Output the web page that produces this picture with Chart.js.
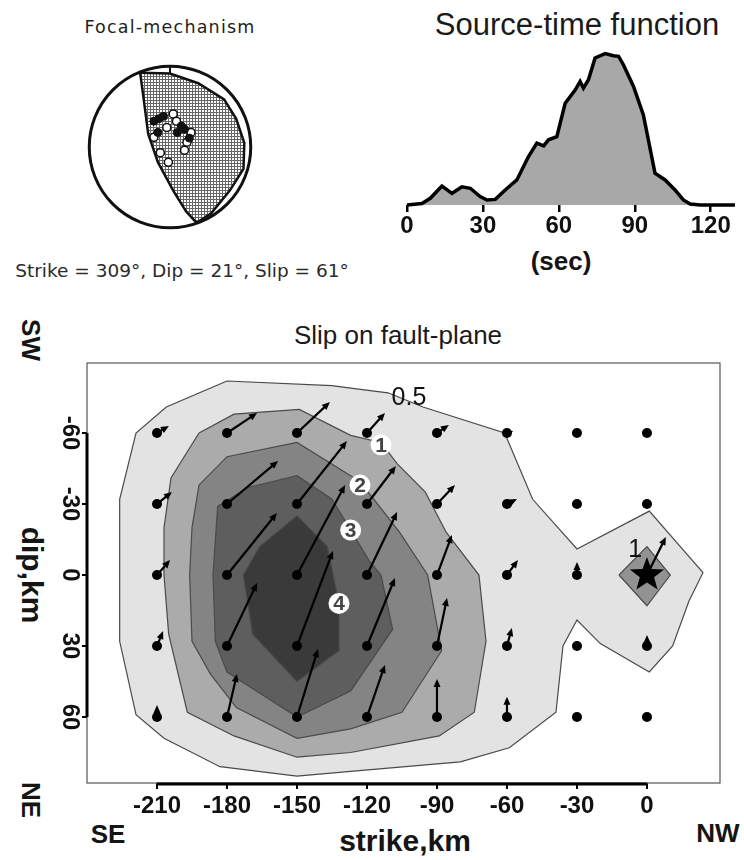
<!DOCTYPE html>
<html>
<head>
<meta charset="utf-8">
<script src="https://cdn.jsdelivr.net/npm/chart.js@4.4.1/dist/chart.umd.min.js"></script>
<style>
  html, body { margin: 0; padding: 0; background: #fff; }
  #page { position: relative; width: 744px; height: 860px; overflow: hidden; font-family: "Liberation Sans", Arial, sans-serif; color: #151515; }
  canvas { position: absolute; }
  .lbl { position: absolute; white-space: nowrap; line-height: 1; transform: translate(-50%, -50%); }
  .rot { transform: translate(-50%, -50%) rotate(90deg); }
  .b { font-weight: bold; }
</style>
</head>
<body>
<div id="page">
  <div class="lbl" style="left:170px;top:28px;font-family:'DejaVu Sans';font-size:17.5px;letter-spacing:1.2px;color:#1e1e1e">Focal-mechanism</div>
  <div class="lbl" style="left:182px;top:271px;font-family:'DejaVu Sans';font-size:18.5px;color:#2b2b2b">Strike = 309°, Dip = 21°, Slip = 61°</div>
  <div class="lbl" style="left:577px;top:24px;font-size:31px;color:#1a1a1a">Source-time function</div>
  <div class="lbl b" style="left:561px;top:261px;font-size:26px">(sec)</div>
  <div class="lbl" style="left:398px;top:335px;font-size:26px;color:#1a1a1a">Slip on fault-plane</div>
  <div class="lbl b rot" style="left:31px;top:340px;font-size:26px">SW</div>
  <div class="lbl b rot" style="left:32px;top:575px;font-size:30px">dip,km</div>
  <div class="lbl b rot" style="left:31px;top:800px;font-size:26px">NE</div>
  <div class="lbl b" style="left:108px;top:834px;font-size:26px">SE</div>
  <div class="lbl b" style="left:405px;top:841px;font-size:30px">strike,km</div>
  <div class="lbl b" style="left:718px;top:833px;font-size:26px">NW</div>

  <canvas id="ball" width="220" height="220" style="left:60px;top:37px"></canvas>
  <canvas id="stf" width="364" height="202" style="left:380px;top:40px"></canvas>
  <canvas id="slip" width="744" height="560" style="left:0;top:300px"></canvas>
</div>

<script>
// ---- Focal mechanism (unit lower-hemisphere coords) ----
const nodalPlane = [[-0.37, 0.92], [-0.32, 0.55], [-0.27, 0.16], [-0.15, -0.19], [0.04, -0.54], [0.2, -0.8], [0.33, -0.94]];
const auxPlane = [[-0.37, 0.92], [0, 0.91], [0.35, 0.79], [0.67, 0.59], [0.82, 0.35], [0.92, 0.05], [0.91, -0.27], [0.74, -0.54], [0.51, -0.82], [0.33, -0.94]];
const northTick = [[0, 0.91], [0, 1]];
const upPolarity = [[-0.2, 0.32], [-0.14, 0.35], [-0.08, 0.38], [0.14, 0.26], [0.18, 0.22], [0.24, 0.11], [-0.15, 0.18], [0.09, 0.18]];
const downPolarity = [[0.04, 0.41], [0.08, 0.32], [0.26, 0.18], [0.21, 0.06], [0.18, -0.04], [-0.2, 0.12], [-0.12, -0.07], [-0.02, -0.19], [-0.04, 0.24]];

// ---- Source-time function ----
const stfTime = [0, 5.9, 9.2, 13.8, 17.8, 21.7, 25, 28.9, 31.6, 34.9, 38.8, 43.4, 48, 51.3, 54, 55.9, 59.2, 62.5, 66.5, 68.4, 69.7, 71.7, 74.3, 78.3, 81.6, 83.6, 85.5, 89.5, 93.4, 98, 102, 105.9, 109.2, 111.9, 115.8, 129.6];
const stfRate = [0, 0.01, 0.044, 0.125, 0.077, 0.12, 0.11, 0.055, 0.033, 0.037, 0.099, 0.165, 0.319, 0.407, 0.389, 0.429, 0.45, 0.67, 0.758, 0.813, 0.769, 0.824, 0.967, 0.996, 0.982, 0.978, 0.923, 0.78, 0.593, 0.209, 0.165, 0.099, 0.033, 0.007, 0, 0];
const stfTicks = [0, 30, 60, 90, 120];

// ---- Slip on fault plane ----
const strikeKm = [-210, -180, -150, -120, -90, -60, -30, 0];
const dipKm = [-60, -30, 0, 30, 60];
// slip vector components in plot km, one row per dip, one column per strike
const slipU = [
  [5.1, 12.9, 14.1, 7.7, 5.1, 2.6, 0, 0],
  [6.4, 21.9, 21.4, 12.4, 7.7, 4.3, 0, 0],
  [5.6, 21.4, 20.6, 12.9, 6.4, 4.7, 0, 8.1],
  [2.6, 12.9, 15.4, 12.0, 4.3, 2.1, 0, 0],
  [0, 4.3, 9.0, 7.7, 0, 0, 0, 0]
];
const slipV = [
  [-3.0, -8.5, -13.1, -8.5, -3.4, -0.8, 0, 0],
  [-5.1, -18.2, -26.6, -16.1, -8.0, -2.1, 0, 0],
  [-6.3, -26.2, -38.0, -26.6, -16.9, -6.3, -5.5, -16.1],
  [-6.3, -26.6, -40.1, -28.7, -20.3, -7.6, 0, -4.6],
  [-5.1, -18.2, -28.7, -22.0, -16.1, -8.5, 0, 0]
];
const contour05 = [[-180, -82], [-135, -80], [-127, -79], [-111, -77], [-96, -71], [-61, -60], [-49, -32], [-30, -11], [1, -27], [24, -1], [18, 11], [11, 30], [1, 41], [-20, 29], [-30, 19], [-36, 30], [-39, 58], [-59, 73], [-80, 79], [-127, 83], [-150, 85], [-183, 81], [-207, 69], [-219, 59], [-226, 28], [-226, -32], [-219, -60], [-206, -71]];
const contour1 = [[-192, -60], [-177, -68], [-149, -70], [-127, -59], [-114, -56], [-107, -47], [-95, -35], [-86, -18], [-72, 0], [-69, 28], [-74, 58], [-89, 68], [-127, 75], [-150, 77], [-177, 68], [-197, 58], [-205, 25], [-207, 0], [-207, -20], [-204, -41]];
const contour2 = [[-192, -38], [-180, -50], [-150, -56], [-127, -42], [-123, -39], [-117, -32], [-106, -18], [-94, 0], [-88, 32], [-105, 58], [-127, 65], [-150, 69], [-176, 56], [-187, 42], [-195, 28], [-196, 0], [-195, -20]];
const contour3 = [[-171, -37], [-150, -42], [-135, -32], [-127, -19], [-119, -6], [-114, 0], [-109, 23], [-127, 49], [-150, 60], [-180, 41], [-185, 28], [-186, 0], [-184, -29]];
const contour4 = [[-166, -12], [-150, -25], [-137, -12], [-132, 12], [-132, 32], [-150, 45], [-169, 25], [-173, 0]];
const contourEpi = [[-12, 0], [0, -12], [10, 0], [0, 13]];
const epicenter = [0, 0];
const contourLabelText = ['0.5', '1', '2', '3', '4', '1'];
const contourLabelX = [-102, -114, -123, -127, -132, -5];
const contourLabelY = [-75, -55, -38, -19, 12, -11];
const strikeTicks = [-210, -180, -150, -120, -90, -60, -30, 0];
const dipTicks = [-60, -30, 0, 30, 60];

const closed = pts => pts.concat([pts[0]]).map(([x, y]) => ({ x, y }));
const toXY = pts => pts.map(([x, y]) => ({ x, y }));

// --- focal mechanism ball ---
function hatchPattern(ctx) {
    const c = document.createElement('canvas');
    c.width = 3; c.height = 3;
    const g = c.getContext('2d');
    g.fillStyle = '#fff'; g.fillRect(0, 0, 3, 3);
    g.fillStyle = '#666'; g.fillRect(0, 0, 3, 1); g.fillRect(0, 0, 1, 3);
    return ctx.createPattern(c, 'repeat');
}

const ballDecor = {
    id: 'ballDecor',
    beforeDatasetsDraw(chart) {
        const { ctx, scales: { x, y } } = chart;
        const cx = x.getPixelForValue(0), cy = y.getPixelForValue(0);
        const R = x.getPixelForValue(1) - cx;
        ctx.save();
        ctx.beginPath(); ctx.arc(cx, cy, R, 0, Math.PI * 2); ctx.clip();
        ctx.beginPath();
        nodalPlane.concat(auxPlane.slice().reverse()).forEach(([u, v], i) => {
            const px = x.getPixelForValue(u), py = y.getPixelForValue(v);
            if (i) ctx.lineTo(px, py); else ctx.moveTo(px, py);
        });
        ctx.closePath();
        ctx.fillStyle = hatchPattern(ctx);
        ctx.fill();
        ctx.restore();
    },
    afterDatasetsDraw(chart) {
        const { ctx, scales: { x, y } } = chart;
        const cx = x.getPixelForValue(0), cy = y.getPixelForValue(0);
        const R = x.getPixelForValue(1) - cx;
        ctx.save();
        ctx.strokeStyle = '#111'; ctx.lineWidth = 3;
        ctx.beginPath(); ctx.arc(cx, cy, R, 0, Math.PI * 2); ctx.stroke();
        ctx.restore();
    }
};

const planeLine = { showLine: true, pointRadius: 0, borderColor: '#111', borderWidth: 2.5, tension: 0 };
new Chart(document.getElementById('ball'), {
    type: 'scatter',
    data: {
        datasets: [
            { ...planeLine, data: toXY(nodalPlane) },
            { ...planeLine, data: toXY(auxPlane) },
            { ...planeLine, data: toXY(northTick), borderWidth: 2 },
            { data: toXY(upPolarity), pointRadius: 4, pointBackgroundColor: '#111', pointBorderColor: '#111', pointBorderWidth: 1 },
            { data: toXY(downPolarity), pointRadius: 4, pointBackgroundColor: '#fff', pointBorderColor: '#111', pointBorderWidth: 1.5 }
        ]
    },
    options: {
        responsive: false, animation: false, events: [],
        layout: { padding: 0 },
        plugins: { legend: { display: false }, tooltip: { enabled: false } },
        scales: {
            x: { display: false, min: -1.294, max: 1.294 },
            y: { display: false, min: -1.294, max: 1.294 }
        }
    },
    plugins: [ballDecor]
});

// --- source-time function ---
new Chart(document.getElementById('stf'), {
    type: 'line',
    data: {
        datasets: [{
            data: stfTime.map((t, i) => ({ x: t, y: stfRate[i] })),
            borderColor: '#000', borderWidth: 3.5, backgroundColor: '#a8a8a8',
            fill: 'origin', pointRadius: 0, tension: 0, clip: 8
        }]
    },
    options: {
        responsive: false, animation: false, events: [],
        layout: { padding: { left: 27, right: 9, top: 13, bottom: 0 } },
        plugins: { legend: { display: false }, tooltip: { enabled: false } },
        scales: {
            x: {
                type: 'linear', min: 0, max: 129.6,
                afterBuildTicks: s => { s.ticks = stfTicks.map(v => ({ value: v })); },
                afterFit: s => { s.height = 37; },
                border: { display: false },
                grid: { drawOnChartArea: false, drawTicks: true, tickLength: 7, color: '#000', lineWidth: 2.5 },
                ticks: { font: { family: 'Liberation Sans', size: 24, weight: 'bold' }, color: '#111', padding: 0, maxRotation: 0, autoSkip: false }
            },
            y: { display: false, min: 0, max: 1 }
        }
    }
});

// --- slip on fault plane ---
function drawStar(ctx, cx, cy, R, r) {
    ctx.beginPath();
    for (let i = 0; i < 10; i++) {
        const a = -Math.PI / 2 + i * Math.PI / 5;
        const rad = i % 2 ? r : R;
        ctx.lineTo(cx + rad * Math.cos(a), cy + rad * Math.sin(a));
    }
    ctx.closePath();
    ctx.fill();
}

const slipDecor = {
    id: 'slipDecor',
    beforeDatasetDraw(chart, args) {
        if (chart.data.datasets[args.index].label !== 'grid') return;
        const { ctx, scales: { x, y } } = chart;
        ctx.save();
        ctx.strokeStyle = '#000'; ctx.fillStyle = '#000'; ctx.lineWidth = 2.2;
        dipKm.forEach((d, r) => strikeKm.forEach((s, c) => {
            const u = slipU[r][c], v = slipV[r][c];
            if (!u && !v) return;
            const x0 = x.getPixelForValue(s), y0 = y.getPixelForValue(d);
            const x1 = x.getPixelForValue(s + u), y1 = y.getPixelForValue(d + v);
            const a = Math.atan2(y1 - y0, x1 - x0);
            const len = Math.hypot(x1 - x0, y1 - y0);
            const head = Math.min(8, len);
            ctx.beginPath();
            ctx.moveTo(x0, y0);
            ctx.lineTo(x1 - Math.cos(a) * head * 0.6, y1 - Math.sin(a) * head * 0.6);
            ctx.stroke();
            ctx.beginPath();
            ctx.moveTo(x1, y1);
            ctx.lineTo(x1 - head * Math.cos(a) + 3.5 * Math.sin(a), y1 - head * Math.sin(a) - 3.5 * Math.cos(a));
            ctx.lineTo(x1 - head * Math.cos(a) - 3.5 * Math.sin(a), y1 - head * Math.sin(a) + 3.5 * Math.cos(a));
            ctx.closePath();
            ctx.fill();
        }));
        ctx.restore();
    },
    afterDatasetsDraw(chart) {
        const { ctx, chartArea: area, scales: { x, y } } = chart;
        ctx.save();

        // epicentre star
        ctx.fillStyle = '#000';
        drawStar(ctx, x.getPixelForValue(epicenter[0]), y.getPixelForValue(epicenter[1]), 18, 7.5);

        // contour labels
        ctx.textAlign = 'center';
        ctx.textBaseline = 'middle';
        contourLabelText.forEach((t, i) => {
            const px = x.getPixelForValue(contourLabelX[i]), py = y.getPixelForValue(contourLabelY[i]);
            if (i > 0 && i < 5) {
                ctx.fillStyle = '#fff';
                ctx.beginPath(); ctx.arc(px, py, 10.5, 0, Math.PI * 2); ctx.fill();
                ctx.fillStyle = '#444';
                ctx.font = 'bold 21px "Liberation Sans"';
            } else {
                ctx.fillStyle = '#111';
                ctx.font = '25px "Liberation Sans"';
            }
            ctx.fillText(t, px, py + 1);
        });

        // frame
        ctx.strokeStyle = '#555'; ctx.lineWidth = 1.2;
        ctx.strokeRect(area.left, area.top, area.right - area.left, area.bottom - area.top);

        // thick axis bars over the tick range
        ctx.strokeStyle = '#000'; ctx.lineWidth = 3;
        ctx.beginPath();
        ctx.moveTo(x.getPixelForValue(strikeTicks[0]), area.bottom + 1);
        ctx.lineTo(x.getPixelForValue(strikeTicks[strikeTicks.length - 1]), area.bottom + 1);
        ctx.moveTo(area.left, y.getPixelForValue(dipTicks[0]));
        ctx.lineTo(area.left, y.getPixelForValue(dipTicks[dipTicks.length - 1]));
        ctx.stroke();

        // y ticks, labels turned clockwise
        ctx.lineWidth = 2;
        ctx.font = 'bold 24px "Liberation Sans"';
        ctx.fillStyle = '#111';
        y.ticks.forEach(t => {
            const py = y.getPixelForValue(t.value);
            ctx.beginPath(); ctx.moveTo(area.left, py); ctx.lineTo(area.left - 5, py); ctx.stroke();
            ctx.save();
            ctx.translate(70, py);
            ctx.rotate(Math.PI / 2);
            ctx.fillText(String(t.value), 0, 0);
            ctx.restore();
        });
        ctx.restore();
    }
};

const gridPoints = [];
dipKm.forEach(d => strikeKm.forEach(s => gridPoints.push({ x: s, y: d })));

const contours = [
    { pts: contour05, color: '#e3e3e3' },
    { pts: contour1, color: '#ababab' },
    { pts: contour2, color: '#848484' },
    { pts: contour3, color: '#5e5e5e' },
    { pts: contour4, color: '#3a3a3a' },
    { pts: contourEpi, color: '#929292' }
];

new Chart(document.getElementById('slip'), {
    type: 'scatter',
    data: {
        datasets: contours.map((c, i) => ({
            data: closed(c.pts), showLine: true, fill: 'shape',
            backgroundColor: c.color, borderColor: '#4a4a4a', borderWidth: 1.2,
            pointRadius: 0, tension: 0, order: 10 - i
        })).concat([{
            label: 'grid', data: gridPoints, pointRadius: 5,
            pointBackgroundColor: '#000', pointBorderWidth: 0, order: 0
        }])
    },
    options: {
        responsive: false, animation: false, events: [],
        layout: { padding: { left: 0, right: 24, top: 63, bottom: 27 } },
        plugins: { legend: { display: false }, tooltip: { enabled: false } },
        scales: {
            x: {
                type: 'linear', min: -240, max: 31.3,
                afterBuildTicks: s => { s.ticks = strikeTicks.map(v => ({ value: v })); },
                afterFit: s => { s.height = 50; },
                border: { display: false },
                grid: { drawOnChartArea: false, drawTicks: true, tickLength: 6, color: '#000', lineWidth: 2 },
                ticks: { font: { family: 'Liberation Sans', size: 24, weight: 'bold' }, color: '#111', padding: 3, maxRotation: 0, autoSkip: false }
            },
            y: {
                type: 'linear', min: -89.6, max: 87.9, reverse: true,
                afterBuildTicks: s => { s.ticks = dipTicks.map(v => ({ value: v })); },
                afterFit: s => { s.width = 87; },
                border: { display: false },
                grid: { display: false },
                ticks: { display: false }
            }
        }
    },
    plugins: [slipDecor]
});
</script>
</body>
</html>
